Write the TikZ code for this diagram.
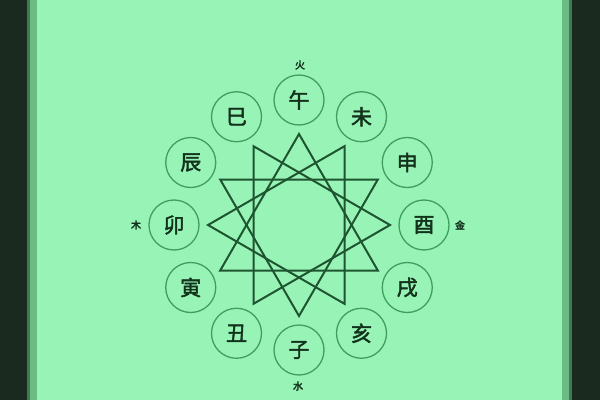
\documentclass[tikz,border=0pt]{standalone}
\usepackage{fontspec}
\newfontfamily\cjk[FakeBold=2]{Noto Sans CJK SC}
\newfontfamily\cjksmall[FakeBold=3]{Noto Sans CJK SC}
\definecolor{bg}{HTML}{98F4B6}
\definecolor{darkb}{HTML}{1B2A1F}
\definecolor{speck}{HTML}{6CBA84}
\definecolor{speckd}{HTML}{3F7A52}
\definecolor{ringc}{HTML}{3E9E62}
\definecolor{starc}{HTML}{1E5530}
\definecolor{txt}{HTML}{12321B}
\tikzset{
  branch/.style={circle, draw=ringc, line width=1.3pt, minimum size=50pt, inner sep=0pt, font=\cjk\fontsize{21}{21}\selectfont, text=txt},
  elem/.style={inner sep=0pt, font=\cjksmall\fontsize{10}{10}\selectfont, text=txt},
  starline/.style={draw=starc, line width=2pt, line join=miter}
}
\begin{document}
\begin{tikzpicture}[x=1pt,y=1pt]
\useasboundingbox (0,0) rectangle (600,400);
\fill[darkb] (0,0) rectangle (600,400);
\fill[speckd] (27,0) rectangle (572,400);
\fill[speck] (30,0) rectangle (569,400);
\fill[bg] (37,0) rectangle (562,400);
\foreach \i/\t in {0/酉,1/申,2/未,3/午,4/巳,5/辰,6/卯,7/寅,8/丑,9/子,10/亥,11/戌}{
  \node[branch] (b\i) at ([shift={(299,175)}]\i*30:125) {\t};
}
\foreach \i in {0,...,11}{
  \coordinate (s\i) at ([shift={(299,175)}]\i*30:91);
}
\draw[starline] (s0) -- (s4) -- (s8) -- cycle;
\draw[starline] (s1) -- (s5) -- (s9) -- cycle;
\draw[starline] (s2) -- (s6) -- (s10) -- cycle;
\draw[starline] (s3) -- (s7) -- (s11) -- cycle;
\node[elem] (fire) at (300,335) {火};
\node[elem] (metal) at (460,175) {金};
\node[elem] (wood) at (136,175) {木};
\node[elem] (water) at (298,14) {水};
\end{tikzpicture}
\end{document}
